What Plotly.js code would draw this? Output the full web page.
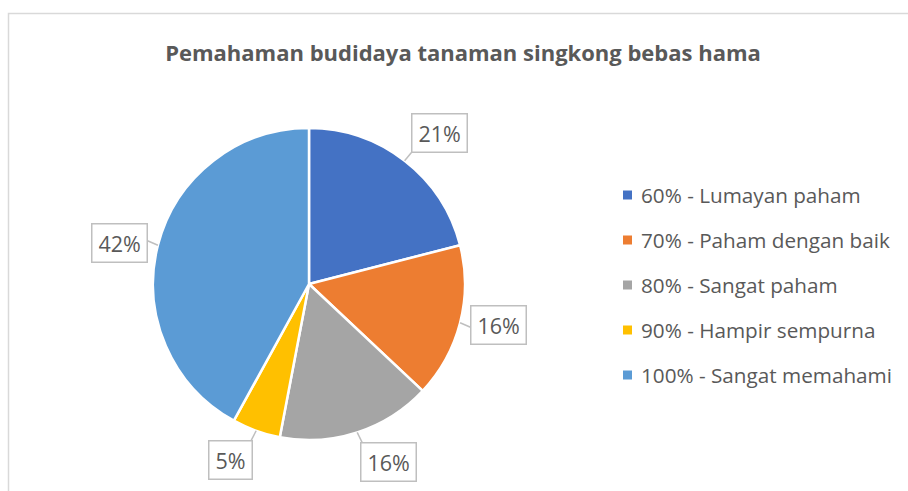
<!DOCTYPE html>
<html>
<head>
<meta charset="utf-8">
<script src="https://cdn.plot.ly/plotly-3.0.1.min.js"></script>
<style>html,body{margin:0;padding:0;background:#fff;}#chart{width:908px;height:491px;}</style>
</head>
<body>
<div id="chart"></div>
<script>
// ---- data ----
const categories = ["60% - Lumayan paham", "70% - Paham dengan baik", "80% - Sangat paham", "90% - Hampir sempurna", "100% - Sangat memahami"];
const percentValues = [21, 16, 16, 5, 42];
const sliceColors = ["#4472C4", "#ED7D31", "#A5A5A5", "#FFC000", "#5B9BD5"];
const chartTitle = "Pemahaman budidaya tanaman singkong bebas hama";

// ---- geometry (pixels) ----
const W = 908, H = 491;
const cx = 309, cy = 284, R = 156;
const labelGap = 10;
const textColor = "#595959";
const calloutColor = "#bfbfbf";
const fontFam = "'Open Sans', 'Noto Sans', sans-serif";

const px = x => x / W;
const py = y => 1 - y / H;

const total = percentValues.reduce((a, b) => a + b, 0);
const annotations = [];
const shapes = [];

// chart border (chart area edge)
shapes.push({type: "rect", xref: "paper", yref: "paper",
  x0: px(8.5), x1: px(W + 20), y0: py(13.5), y1: py(H + 20),
  line: {color: "#d9d9d9", width: 1.5}, fillcolor: "rgba(0,0,0,0)", layer: "below"});

// data label callouts placed from slice mid-angles
let cum = 0;
percentValues.forEach((v, i) => {
  const mid = (cum + v / 2) / total * 2 * Math.PI;
  cum += v;
  const s = Math.sin(mid), c = Math.cos(mid);
  const ex = cx + R * s, ey = cy - R * c;
  const ax = cx + (R + labelGap) * s, ay = cy - (R + labelGap) * c;
  // callout tail
  shapes.push({type: "line", xref: "paper", yref: "paper",
    x0: px(ex), y0: py(ey), x1: px(ax + 3 * Math.sign(s)), y1: py(ay - 3 * Math.sign(c)),
    line: {color: calloutColor, width: 1.5}});
  annotations.push({
    xref: "paper", yref: "paper", x: px(ax), y: py(ay),
    xanchor: s >= 0 ? "left" : "right",
    yanchor: Math.abs(c) < 0.5 ? "middle" : (c > 0 ? "bottom" : "top"),
    text: Math.round(v / total * 100) + "%",
    showarrow: false,
    bordercolor: calloutColor, borderwidth: 1.5, borderpad: 6, bgcolor: "#ffffff",
    height: 25,
    font: {family: fontFam, size: 21.5, color: textColor}
  });
});

// legend built from categories & colors
const legX = 623, legTextX = 639, legTop = 195, legGap = 45, sw = 9;
categories.forEach((cat, i) => {
  const yc = legTop + i * legGap;
  shapes.push({type: "rect", xref: "paper", yref: "paper",
    x0: px(legX), x1: px(legX + sw), y0: py(yc - sw / 2), y1: py(yc + sw / 2),
    fillcolor: sliceColors[i], line: {width: 0}});
  annotations.push({xref: "paper", yref: "paper", x: px(legTextX), y: py(yc),
    xanchor: "left", yanchor: "middle", showarrow: false, text: cat,
    font: {family: fontFam, size: 20.7, color: textColor}});
});

const trace = {
  type: "pie",
  labels: categories,
  values: percentValues,
  sort: false,
  direction: "clockwise",
  rotation: 0,
  marker: {colors: sliceColors, line: {color: "#ffffff", width: 2.5}},
  textinfo: "none",
  hoverinfo: "label+percent",
  showlegend: false,
  domain: {x: [px(cx - R), px(cx + R)], y: [py(cy + R), py(cy - R)]}
};

const layout = {
  width: W, height: H,
  margin: {l: 0, r: 0, t: 0, b: 0},
  paper_bgcolor: "#ffffff",
  title: {text: "<b>" + chartTitle + "</b>", x: 463 / W, xanchor: "center", y: py(53), yanchor: "middle",
    font: {family: fontFam, size: 22, color: textColor}},
  showlegend: false,
  shapes: shapes,
  annotations: annotations
};

Plotly.newPlot("chart", [trace], layout, {displayModeBar: false, staticPlot: true});
</script>
</body>
</html>
